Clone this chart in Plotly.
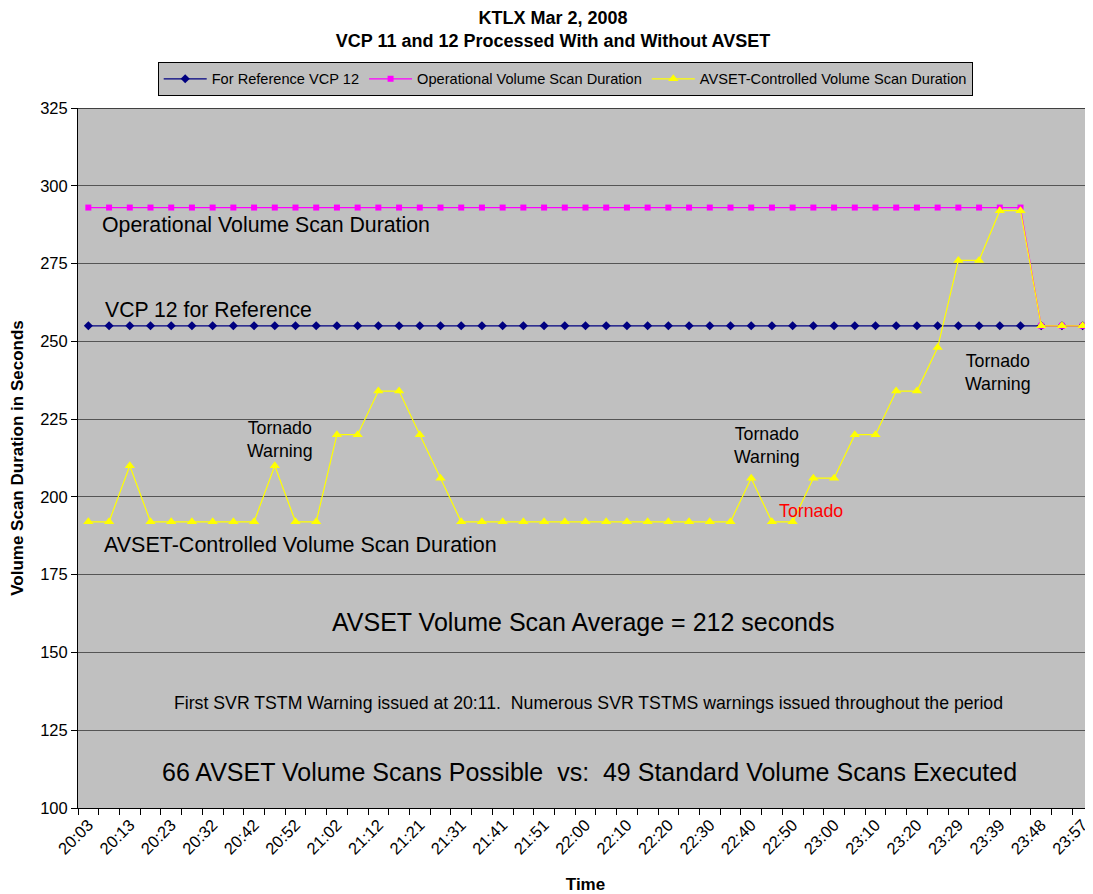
import plotly.graph_objects as go

times = ["20:03", "20:08", "20:13", "20:18", "20:23", "20:27", "20:32", "20:37", "20:42", "20:47",
         "20:52", "20:57", "21:02", "21:07", "21:12", "21:16", "21:21", "21:26", "21:31", "21:36",
         "21:41", "21:46", "21:51", "21:55", "22:00", "22:05", "22:10", "22:15", "22:20", "22:25",
         "22:30", "22:35", "22:40", "22:45", "22:50", "22:55", "23:00", "23:05", "23:10", "23:15",
         "23:20", "23:24", "23:29", "23:34", "23:39", "23:43", "23:48", "23:52", "23:57"]

vcp12 = [255] * 49

operational = [293] * 46 + [255, 255, 255]

avset = [192, 192, 210, 192, 192, 192, 192, 192, 192, 210,
         192, 192, 220, 220, 234, 234, 220, 206, 192, 192,
         192, 192, 192, 192, 192, 192, 192, 192, 192, 192,
         192, 192, 206, 192, 192, 206, 206, 220, 220, 234,
         234, 248, 276, 276, 292, 292, 255, 255, 255]

tick_labels = [t if i % 2 == 0 else "" for i, t in enumerate(times)]

FONT = "Liberation Sans, Arial, sans-serif"

fig = go.Figure()
fig.add_trace(go.Scatter(x=times, y=vcp12, mode="lines+markers", name="For Reference VCP 12",
                         line=dict(color="#000080", width=1.2),
                         marker=dict(symbol="diamond", size=7, color="#000080")))
fig.add_trace(go.Scatter(x=times, y=operational, mode="lines+markers", name="Operational Volume Scan Duration",
                         line=dict(color="#FF00FF", width=1.2),
                         marker=dict(symbol="square", size=6, color="#FF00FF")))
fig.add_trace(go.Scatter(x=times, y=avset, mode="lines+markers", name="AVSET-Controlled Volume Scan Duration",
                         line=dict(color="#FFFF00", width=1.2),
                         marker=dict(symbol="triangle-up", size=9, color="#FFFF00")))

annotations = [
    dict(text="Operational Volume Scan Duration", x=0.0217, y=287.4, xanchor="left", font=dict(size=21.3)),
    dict(text="VCP 12 for Reference", x=0.0246, y=260.1, xanchor="left", font=dict(size=21.2)),
    dict(text="AVSET-Controlled Volume Scan Duration", x=0.0236, y=184.5, xanchor="left", font=dict(size=21.5)),
    dict(text="Tornado<br>Warning", x=0.199, y=218.3, xanchor="center", font=dict(size=17.8)),
    dict(text="Tornado<br>Warning", x=0.679, y=216.4, xanchor="center", font=dict(size=17.8)),
    dict(text="Tornado", x=0.7225, y=195.5, xanchor="center", font=dict(size=17.8, color="#FF0000")),
    dict(text="Tornado<br>Warning", x=0.906, y=240.1, xanchor="center", font=dict(size=17.8)),
    dict(text="AVSET Volume Scan Average = 212 seconds", x=0.498, y=159.8, xanchor="center", font=dict(size=25)),
    dict(text="First SVR TSTM Warning issued at 20:11.  Numerous SVR TSTMS warnings issued throughout the period",
         x=0.503, y=133.7, xanchor="center", font=dict(size=17.7)),
    dict(text="66 AVSET Volume Scans Possible  vs:  49 Standard Volume Scans Executed", x=0.504, y=111.6,
         xanchor="center", font=dict(size=25)),
]
for a in annotations:
    a.update(xref="paper", yref="y", showarrow=False, yanchor="middle")
    a["font"].setdefault("color", "#000000")
    a["font"]["family"] = FONT

fig.update_layout(
    width=1085, height=886,
    margin=dict(l=70, r=0, t=100, b=86, autoexpand=False),
    paper_bgcolor="#FFFFFF",
    plot_bgcolor="#C0C0C0",
    font=dict(family=FONT, color="#000000", size=16),
    title=dict(text="<b>KTLX Mar 2, 2008<br>VCP 11 and 12 Processed With and Without AVSET</b>",
               x=0.468, xref="paper", xanchor="center", y=0.982, yanchor="top",
               font=dict(size=18, family=FONT)),
    legend=dict(orientation="h", x=0.48, xanchor="center", y=1.066, yanchor="top",
                bgcolor="#C0C0C0", bordercolor="#000000", borderwidth=1,
                font=dict(size=14.6, family=FONT), itemwidth=43, tracegroupgap=0),
    showlegend=True,
    annotations=annotations,
)

fig.update_xaxes(
    type="category", categoryorder="array", categoryarray=times,
    range=[-0.5, 48.5],
    tickmode="array", tickvals=times, ticktext=tick_labels,
    tickson="boundaries", ticks="outside", ticklen=6, tickcolor="#000000",
    tickangle=-45, tickfont=dict(size=16.5),
    showline=True, linecolor="#000000", linewidth=1, mirror=False,
    showgrid=False, zeroline=False, automargin=False,
    title=dict(text="<b>Time</b>", font=dict(size=17), standoff=21),
)
fig.update_yaxes(
    range=[100, 325], tick0=100, dtick=25,
    ticks="outside", ticklen=6, tickcolor="#000000", tickfont=dict(size=16.5),
    showline=True, linecolor="#000000", linewidth=1,
    showgrid=True, gridcolor="#555555", gridwidth=1, zeroline=False, automargin=False,
    title=dict(text="<b>Volume Scan Duration in Seconds</b>", font=dict(size=17), standoff=12),
)

fig.add_shape(type="line", xref="paper", yref="y", x0=0, x1=1, y0=325, y1=325,
              line=dict(color="#404040", width=2), layer="above")

fig.write_html("out.html")
